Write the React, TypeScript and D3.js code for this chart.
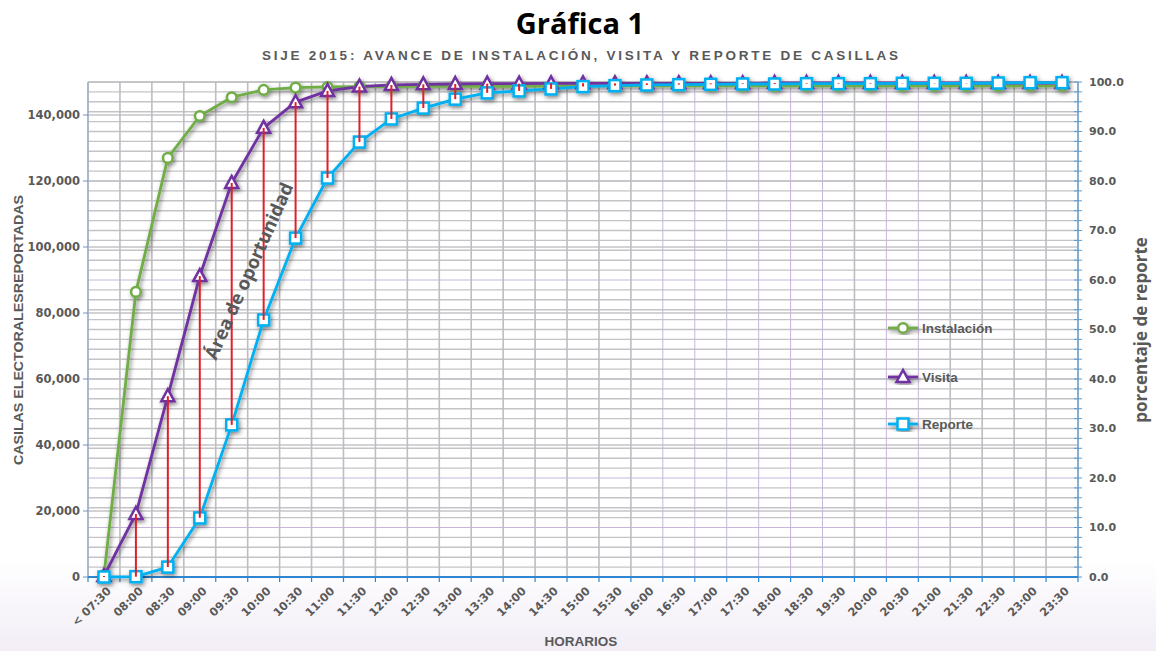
import React from "react";
import * as d3 from "d3";

const categories = ["< 07:30","08:00","08:30","09:00","09:30","10:00","10:30","11:00","11:30","12:00","12:30","13:00","13:30","14:00","14:30","15:00","15:30","16:00","16:30","17:00","17:30","18:00","18:30","19:30","20:00","20:30","21:00","21:30","22:30","23:00","23:30"];
const instalacion = [500,86400,127000,139700,145400,147600,148300,148500,148600,148600,148700,148700,148700,148700,148800,148800,148800,148800,148800,148800,148800,148800,148800,148800,148800,148800,148800,148800,148800,148800,148800];
const visita = [300,19100,54800,91200,119400,136100,143900,147300,148600,149100,149300,149400,149500,149500,149600,149600,149600,149600,149600,149600,149600,149700,149700,149700,149700,149700,149700,149700,149700,149700,149700];
const reporte = [0,100,3000,17900,46100,77900,102700,120900,131800,138800,142100,144800,146700,147300,147900,148600,148900,149100,149200,149300,149400,149400,149500,149500,149500,149600,149600,149600,149700,149800,149800];
const leftTicks = [0,20000,40000,60000,80000,100000,120000,140000];
const rightTicks = [0,10,20,30,40,50,60,70,80,90,100];
const seriesNames = ["Instalación","Visita","Reporte"];

const W = 1156, H = 651;
const L = 88, R = 1078, T = 82, B = 577;
const GREEN = "#70ad47", PURPLE = "#7030a0", CYAN = "#00b0f0", GRAY = "#595959";

export default function App() {
  const x = d3.scaleBand<string>().domain(categories).range([L, R]).padding(0);
  const yL = d3.scaleLinear().domain([0, 150000]).range([B, T]);
  const yR = d3.scaleLinear().domain([0, 100]).range([B, T]);
  const cx = (c: string) => (x(c) as number) + x.bandwidth() / 2;
  const line = d3.line<number>().x((_, i) => cx(categories[i])).y(v => yL(v));
  const fmt = d3.format(",");
  const fmtR = d3.format(".1f");

  const minorR = d3.range(0, 101, 2);
  const bounds = d3.range(0, categories.length + 1).map(k => L + k * x.bandwidth());
  const purpleV = new Set([18, 19, 20, 21, 22, 23, 25, 26]);
  const purpleH = new Set([10, 20, 60]);

  const tri = "M0,-7 L6.5,5 L-6.5,5 Z";
  const marker = (name: string, px: number, py: number, key: any) => {
    if (name === "Instalación") return <circle key={key} cx={px} cy={py} r={4.8} fill="#fff" stroke={GREEN} strokeWidth={2.5} />;
    if (name === "Visita") return <path key={key} d={tri} transform={`translate(${px},${py})`} fill="#fff" stroke={PURPLE} strokeWidth={2.5} strokeLinejoin="miter" />;
    return <rect key={key} x={px - 5.5} y={py - 5.5} width={11} height={11} fill="#fff" stroke={CYAN} strokeWidth={2.5} />;
  };
  const colorOf = (n: string) => (n === "Instalación" ? GREEN : n === "Visita" ? PURPLE : CYAN);
  const dataOf = (n: string) => (n === "Instalación" ? instalacion : n === "Visita" ? visita : reporte);
  const legendY = [328, 377, 424];

  return (
    <svg width={W} height={H} style={{ position: "fixed", left: 0, top: 0 }} xmlns="http://www.w3.org/2000/svg">
      <defs>
        <linearGradient id="bg" x1="0" y1="0" x2="0" y2="1">
          <stop offset="0" stopColor="#ffffff" />
          <stop offset="0.86" stopColor="#ffffff" />
          <stop offset="1" stopColor="#f2edf6" />
        </linearGradient>
        <filter id="sh" x="-20%" y="-20%" width="140%" height="140%">
          <feDropShadow dx="1.5" dy="2" stdDeviation="2.2" floodColor="#000" floodOpacity="0.5" />
        </filter>
      </defs>
      <rect x={0} y={0} width={W} height={H} fill="url(#bg)" />

      {/* grid */}
      <g>
        {minorR.map(v => (
          <line key={"h" + v} x1={L} x2={R} y1={yR(v)} y2={yR(v)}
            stroke={purpleH.has(v) ? "#c6b6dc" : "#c4c4c8"} strokeWidth={purpleH.has(v) ? 1 : 1.4} />
        ))}
        {leftTicks.map(v => (
          <line key={"hl" + v} x1={L} x2={R} y1={yL(v)} y2={yL(v)} stroke="#c4c4c8" strokeWidth={1.4} />
        ))}
        {bounds.map((bx, k) => (
          <line key={"v" + k} x1={bx} x2={bx} y1={T} y2={B}
            stroke={purpleV.has(k) ? "#c6b6dc" : "#bdbdc2"} strokeWidth={purpleV.has(k) ? 1 : 1.6} />
        ))}
      </g>

      {/* axes */}
      <line x1={L} x2={L} y1={T} y2={B} stroke="#8aa8c8" strokeWidth={1} />
      <line x1={L} x2={R} y1={T} y2={T} stroke="#b8b8bc" strokeWidth={1} />
      {leftTicks.map(v => (
        <g key={"lt" + v}>
          <line x1={L - 5} x2={L} y1={yL(v)} y2={yL(v)} stroke="#6f95c0" strokeWidth={1} />
          <text x={L - 8} y={yL(v)} dy="0.35em" textAnchor="end" fontFamily="DejaVu Sans" fontWeight="bold" fontSize={11.5} fill={GRAY}>{fmt(v)}</text>
        </g>
      ))}
      <line x1={R} x2={R} y1={T} y2={B} stroke="#5b9bd5" strokeWidth={1.2} />
      {minorR.map(v => (
        <line key={"rt" + v} x1={R - 4} x2={R + 4} y1={yR(v)} y2={yR(v)} stroke="#5b9bd5" strokeWidth={1} />
      ))}
      {rightTicks.map(v => (
        <text key={"rl" + v} x={R + 11} y={yR(v)} dy="0.35em" textAnchor="start" fontFamily="DejaVu Sans" fontWeight="bold" fontSize={11} fill={GRAY}>{fmtR(v)}</text>
      ))}
      <line x1={L} x2={R} y1={B} y2={B} stroke="#2e86d0" strokeWidth={1.8} />
      {bounds.map((bx, k) => (
        <line key={"xt" + k} x1={bx} x2={bx} y1={B} y2={B + 5} stroke="#2e86d0" strokeWidth={1.2} />
      ))}
      {categories.map(c => (
        <text key={"xl" + c} transform={`translate(${cx(c) + 5},${B + 12}) rotate(-45)`} textAnchor="end" dy="0.35em"
          fontFamily="DejaVu Sans" fontWeight="bold" fontSize={11.3} fill={GRAY}>{c}</text>
      ))}

      {/* titles */}
      <text x={580} y={34} textAnchor="middle" fontFamily="Open Sans" fontWeight="bold" fontSize={29} fill="#000">Gráfica 1</text>
      <text x={580} y={60} textAnchor="middle" fontFamily="Liberation Sans" fontWeight="bold" fontSize={13.5} fill={GRAY}
        textLength={636} lengthAdjust="spacing">SIJE 2015: AVANCE DE INSTALACIÓN, VISITA Y REPORTE DE CASILLAS</text>
      <text x={581} y={646} textAnchor="middle" fontFamily="Liberation Sans" fontWeight="bold" fontSize={13.5} fill={GRAY}>HORARIOS</text>
      <text transform="translate(23,330) rotate(-90)" textAnchor="middle" fontFamily="Liberation Sans" fontWeight="bold" fontSize={13.5} fill={GRAY}
        textLength={270} lengthAdjust="spacingAndGlyphs">CASILAS ELECTORALESREPORTADAS</text>
      <text transform="translate(1147,330) rotate(-90)" textAnchor="middle" fontFamily="Open Sans" fontWeight="bold" fontSize={17} fill={GRAY}>porcentaje de reporte</text>

      {/* series */}
      <g filter="url(#sh)">
        {seriesNames.map(n => (
          <path key={"l" + n} d={line(dataOf(n)) || ""} fill="none" stroke={colorOf(n)} strokeWidth={2.8} strokeLinejoin="round" />
        ))}
        {seriesNames.map(n => dataOf(n).map((v, i) => marker(n, cx(categories[i]), yL(v), n + i)))}
      </g>

      {/* area de oportunidad lines */}
      <g>
        {categories.map((c, i) => (
          visita[i] - reporte[i] > 0 ? (
            <line key={"e" + c} x1={cx(c)} x2={cx(c)} y1={yL(reporte[i])} y2={yL(visita[i])} stroke="#e01f28" strokeWidth={2} />
          ) : null
        ))}
      </g>
      <text transform="translate(249,271) rotate(-66)" textAnchor="middle" dy="0.35em" fontFamily="Open Sans" fontWeight="bold" fontSize={18.5} fill={GRAY}>Área de oportunidad</text>

      {/* legend */}
      {seriesNames.map((n, i) => (
        <g key={"lg" + n}>
          <g filter="url(#sh)">
            <line x1={888} x2={918} y1={legendY[i]} y2={legendY[i]} stroke={colorOf(n)} strokeWidth={2.8} />
            {marker(n, 903, legendY[i], "m" + n)}
          </g>
          <text x={922} y={legendY[i]} dy="0.35em" fontFamily="Liberation Sans" fontWeight="bold" fontSize={13.5} fill={GRAY}>{n}</text>
        </g>
      ))}
    </svg>
  );
}
